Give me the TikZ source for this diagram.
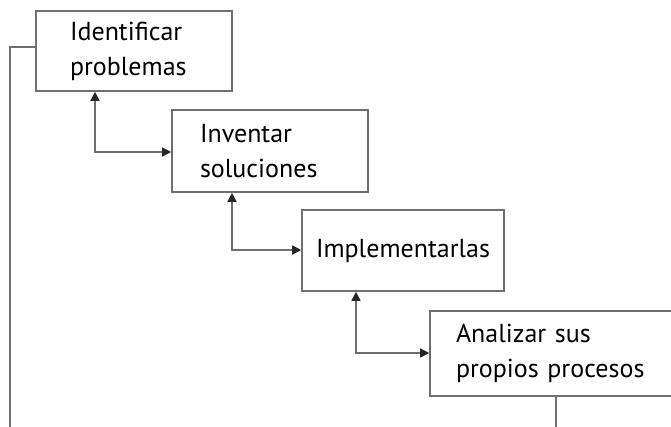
\documentclass[tikz,border=0pt]{standalone}
\usepackage{fontspec}
\setmainfont{PT Sans}
\usetikzlibrary{arrows.meta}
\definecolor{linegray}{RGB}{110,110,110}
\tikzset{
  stepbox/.style={draw=linegray, line width=1.6pt, rectangle, align=left, inner ysep=0pt,
    font=\fontsize{26}{35}\selectfont, text=black},
  link/.style={draw=linegray, line width=1.5pt, {Triangle[length=9pt,width=9pt,color=black!85]}-{Triangle[length=9pt,width=9pt,color=black!85]}},
  plain/.style={draw=linegray, line width=1.5pt}
}
\begin{document}
\begin{tikzpicture}[x=1pt,y=-1pt]
\useasboundingbox (0,0) rectangle (671,426);
\clip (0,0) rectangle (671,426);
\node[stepbox, minimum height=80pt, inner xsep=34pt, text width=128pt] (b1) at (134,51) {Identificar\\problemas};
\node[stepbox, minimum height=82pt, inner xsep=28pt, text width=140pt] (b2) at (270,151) {Inventar\\soluciones};
\node[stepbox, minimum height=81pt, inner xsep=14pt, text width=174pt] (b3) at (403,250.5) {Implementarlas};
\node[stepbox, minimum height=85pt, inner xsep=26pt, text width=208pt] (b4) at (560,353.5) {Analizar sus\\propios procesos};
\coordinate (c1) at (95,152);
\coordinate (c2) at (232,250);
\coordinate (c3) at (356,353);
\draw[link] (b1.south -| c1) |- (b2.west |- c1);
\draw[link] (b2.south -| c2) |- (b3.west |- c2);
\draw[link] (b3.south -| c3) |- (b4.west |- c3);
\coordinate (l0) at (10,430);
\coordinate (r0) at (556,430);
\draw[plain] (b1.west |- 0,47) -| (l0);
\draw[plain] (b4.south -| r0) -- (r0);
\end{tikzpicture}
\end{document}
